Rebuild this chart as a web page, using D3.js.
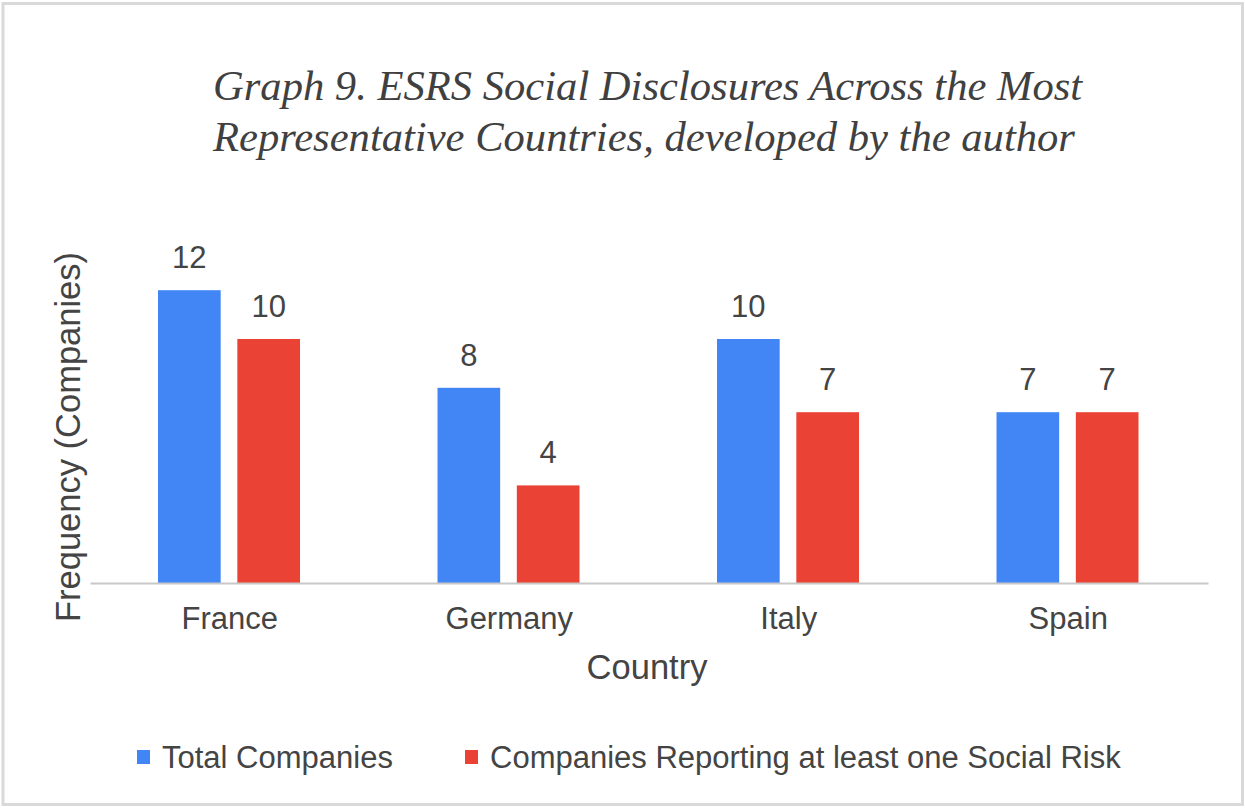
<!DOCTYPE html>
<html>
<head>
<meta charset="utf-8">
<script src="https://cdn.jsdelivr.net/npm/d3@7"></script>
<style>
  html, body { margin: 0; padding: 0; background: #fff; }
</style>
</head>
<body>
<svg id="svg" width="1245" height="808"></svg>
<script>
const countries = ["France", "Germany", "Italy", "Spain"];
const seriesNames = ["Total Companies", "Companies Reporting at least one Social Risk"];
const totalCompanies = [12, 8, 10, 7];
const reportingCompanies = [10, 4, 7, 7];
const titleLines = [
  "Graph 9. ESRS Social Disclosures Across the Most",
  "Representative Countries, developed by the author"
];
const colors = ["#4285f4", "#ea4335"];

const textColor = "#444";
const sans = "Arial, 'Liberation Sans', sans-serif";

const svg = d3.select("#svg");

// outer frame
svg
  .append("rect")
  .attr("x", 3)
  .attr("y", 3.5)
  .attr("width", 1239.5)
  .attr("height", 801)
  .attr("fill", "#fff")
  .attr("stroke", "#d9d9d9")
  .attr("stroke-width", 3);

// title
svg
  .append("g")
  .selectAll("text")
  .data(titleLines)
  .join("text")
  .attr("x", 213)
  .attr("y", (d, i) => 100 + i * 51)
  .attr("fill", "#404040")
  .style("font-family", "'Liberation Serif', 'Times New Roman', serif")
  .style("font-style", "italic")
  .style("font-size", "42.6px")
  .text(d => d);

const x = d3
  .scaleBand()
  .domain(countries)
  .range([90, 1208]);

const xSub = d3
  .scaleBand()
  .domain([0, 1])
  .range([68, 210])
  .paddingInner(0.21);

const y = d3
  .scaleLinear()
  .domain([0, 14])
  .range([583, 241.4]);

const rows = countries.map((c, i) => ({
  country: c,
  values: [totalCompanies[i], reportingCompanies[i]]
}));

const groups = svg
  .append("g")
  .selectAll("g")
  .data(rows)
  .join("g")
  .attr("transform", d => `translate(${x(d.country)},0)`);

groups
  .selectAll("rect")
  .data(d => d.values)
  .join("rect")
  .attr("x", (d, i) => xSub(i))
  .attr("y", d => y(d))
  .attr("width", xSub.bandwidth())
  .attr("height", d => y(0) - y(d))
  .attr("fill", (d, i) => colors[i]);

groups
  .selectAll("text")
  .data(d => d.values)
  .join("text")
  .attr("x", (d, i) => xSub(i) + xSub.bandwidth() / 2)
  .attr("y", d => y(d) - 22)
  .attr("text-anchor", "middle")
  .attr("fill", textColor)
  .style("font-family", sans)
  .style("font-size", "31px")
  .text(d => d);

// x axis
const xAxis = svg
  .append("g")
  .attr("transform", `translate(0,${y(0)})`)
  .call(d3.axisBottom(x).tickSize(0).tickPadding(24));

xAxis.select(".domain").attr("stroke", "#c8c8c8").attr("stroke-width", 2);
xAxis
  .selectAll("text")
  .attr("fill", textColor)
  .style("font-family", sans)
  .style("font-size", "31px");

// axis titles
svg
  .append("text")
  .attr("x", 647)
  .attr("y", 679)
  .attr("text-anchor", "middle")
  .attr("fill", textColor)
  .style("font-family", sans)
  .style("font-size", "34.5px")
  .text("Country");

svg
  .append("text")
  .attr("transform", "translate(80,437) rotate(-90)")
  .attr("text-anchor", "middle")
  .attr("fill", textColor)
  .style("font-family", sans)
  .style("font-size", "34.5px")
  .text("Frequency (Companies)");

// legend
const legendX = [137, 465];
const legend = svg
  .append("g")
  .selectAll("g")
  .data(seriesNames)
  .join("g")
  .attr("transform", (d, i) => `translate(${legendX[i]},750)`);

legend
  .append("rect")
  .attr("width", 13)
  .attr("height", 14)
  .attr("fill", (d, i) => colors[i]);

legend
  .append("text")
  .attr("x", 25)
  .attr("y", 18)
  .attr("fill", textColor)
  .style("font-family", sans)
  .style("font-size", "31px")
  .text(d => d);
</script>
</body>
</html>
